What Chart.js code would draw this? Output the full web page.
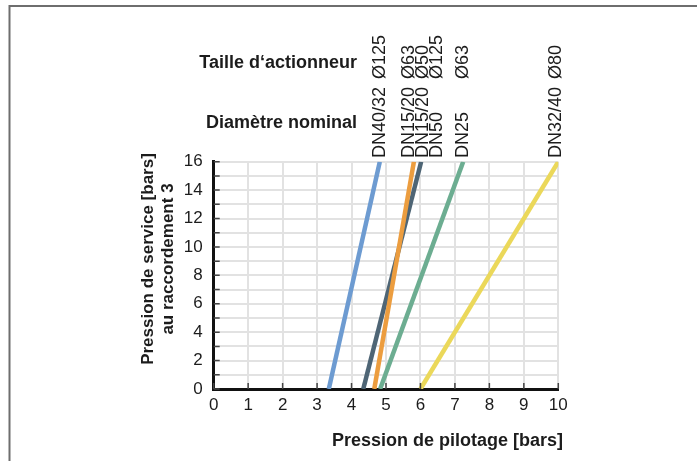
<!DOCTYPE html>
<html><head><meta charset="utf-8">
<script src="https://cdn.jsdelivr.net/npm/chart.js@4.4.0/dist/chart.umd.min.js"></script>
<style>html,body{margin:0;padding:0;background:#fff;}#wrap{width:697px;height:461px;position:relative;}</style>
</head><body><div id="wrap"><canvas id="c" width="697" height="461"></canvas></div>
<script>
// ---- data ----
const seriesNames = ['DN15/20 Ø63', 'DN40/32 Ø125', 'DN15/20 Ø50 / DN50 Ø125', 'DN25 Ø63', 'DN32/40 Ø80'];
const pilotAtZero = [4.66, 3.34, 4.34, 4.83, 6.0];   // pilot pressure where service pressure = 0
const pilotAtMax  = [5.81, 4.82, 6.02, 7.24, 10.0];  // pilot pressure where service pressure = 16
const serviceRange = [0, 16];
const nominalLabels  = ['DN40/32', 'DN15/20', 'DN15/20', 'DN50', 'DN25', 'DN32/40'];
const actuatorLabels = ['Ø125', 'Ø63', 'Ø50', 'Ø125', 'Ø63', 'Ø80'];
const labelPilot     = [4.80, 5.64, 6.05, 6.45, 7.21, 9.90];
const xTickValues = [0, 1, 2, 3, 4, 5, 6, 7, 8, 9, 10];
const yTickValues = [0, 2, 4, 6, 8, 10, 12, 14, 16];

// ---- style ----
const seriesColors = ['#ec9d3f', '#6d9bd1', '#4e6575', '#6cad91', '#ebd85a'];
const TXT = '#1c1c1c';
const FONT = "'Liberation Sans', Arial, Helvetica, sans-serif";

const datasets = seriesNames.map((n, i) => ({
  label: n,
  data: [{x: pilotAtZero[i], y: serviceRange[0]}, {x: pilotAtMax[i], y: serviceRange[1]}],
  showLine: true,
  borderColor: seriesColors[i],
  backgroundColor: seriesColors[i],
  borderWidth: 4.5,
  borderCapStyle: 'butt',
  pointRadius: 0,
  pointHoverRadius: 0,
  fill: false
}));

const decor = {
  id: 'decor',
  beforeDraw(chart) {
    const ctx = chart.ctx;
    ctx.save();
    ctx.fillStyle = '#fff';
    ctx.fillRect(0, 0, chart.width, chart.height);
    ctx.strokeStyle = '#6e6e6e';
    ctx.lineWidth = 2;
    ctx.beginPath();
    ctx.moveTo(9.5, chart.height);
    ctx.lineTo(9.5, 6);
    ctx.lineTo(chart.width, 6);
    ctx.stroke();
    ctx.restore();
  },
  afterDraw(chart) {
    const ctx = chart.ctx;
    const xs = chart.scales.x, ys = chart.scales.y;
    const a = chart.chartArea;
    ctx.save();
    // inside tick marks
    ctx.strokeStyle = '#444';
    ctx.lineWidth = 1.5;
    ctx.beginPath();
    for (let v = 0; v <= 16; v++) {
      const y = ys.getPixelForValue(v);
      ctx.moveTo(a.left, y); ctx.lineTo(a.left + 6, y);
    }
    xTickValues.forEach(v => {
      const x = xs.getPixelForValue(v);
      ctx.moveTo(x, a.bottom); ctx.lineTo(x, a.bottom - 6);
    });
    ctx.stroke();

    ctx.fillStyle = TXT;
    // row labels
    ctx.font = "bold 18px " + FONT;
    ctx.textAlign = 'right';
    ctx.textBaseline = 'alphabetic';
    ctx.fillText('Taille d\u2018actionneur', 357, 68);
    ctx.fillText('Diamètre nominal', 357, 128);

    // rotated column labels
    ctx.font = "18px " + FONT;
    ctx.textAlign = 'left';
    labelPilot.forEach((v, i) => {
      const x = xs.getPixelForValue(v) + 6.3;
      ctx.save(); ctx.translate(x, 158); ctx.rotate(-Math.PI / 2);
      ctx.fillText(nominalLabels[i], 0, 0); ctx.restore();
      ctx.save(); ctx.translate(x, 79); ctx.rotate(-Math.PI / 2);
      ctx.fillText(actuatorLabels[i], 0, 0); ctx.restore();
    });

    // x title
    ctx.font = "bold 18px " + FONT;
    ctx.textAlign = 'right';
    ctx.fillText('Pression de pilotage [bars]', 563, 446);

    // y title
    ctx.font = "bold 17px " + FONT;
    ctx.textAlign = 'center';
    ctx.save(); ctx.translate(153, 259); ctx.rotate(-Math.PI / 2);
    ctx.fillText('Pression de service [bars]', 0, 0); ctx.restore();
    ctx.save(); ctx.translate(173, 259); ctx.rotate(-Math.PI / 2);
    ctx.fillText('au raccordement 3', 0, 0); ctx.restore();
    ctx.restore();
  }
};

new Chart(document.getElementById('c'), {
  type: 'scatter',
  data: { datasets },
  options: {
    responsive: false,
    devicePixelRatio: 1,
    animation: false,
    events: [],
    layout: { padding: { left: 173.7, right: 138.7, top: 161.7, bottom: 42 } },
    plugins: { legend: { display: false }, tooltip: { enabled: false } },
    scales: {
      x: {
        type: 'linear', min: 0, max: 10,
        afterFit: s => { s.height = 30; },
        afterBuildTicks: s => { s.ticks = xTickValues.map(v => ({value: v})); },
        ticks: { stepSize: 1, autoSkip: false, maxRotation: 0, padding: 6, color: TXT, font: { family: FONT, size: 17 } },
        grid: { color: '#e2e2e2', lineWidth: 2, drawTicks: false },
        border: { color: '#111', width: 3 }
      },
      y: {
        type: 'linear', min: 0, max: 16,
        afterFit: s => { s.width = 40; },
        ticks: { stepSize: 1, autoSkip: false, padding: 11, color: TXT, font: { family: FONT, size: 17 },
                 callback: v => (yTickValues.includes(v) ? String(v) : '') },
        grid: { color: '#e2e2e2', lineWidth: 2, drawTicks: false },
        border: { color: '#111', width: 3 }
      }
    }
  },
  plugins: [decor]
});
</script>
</body></html>
